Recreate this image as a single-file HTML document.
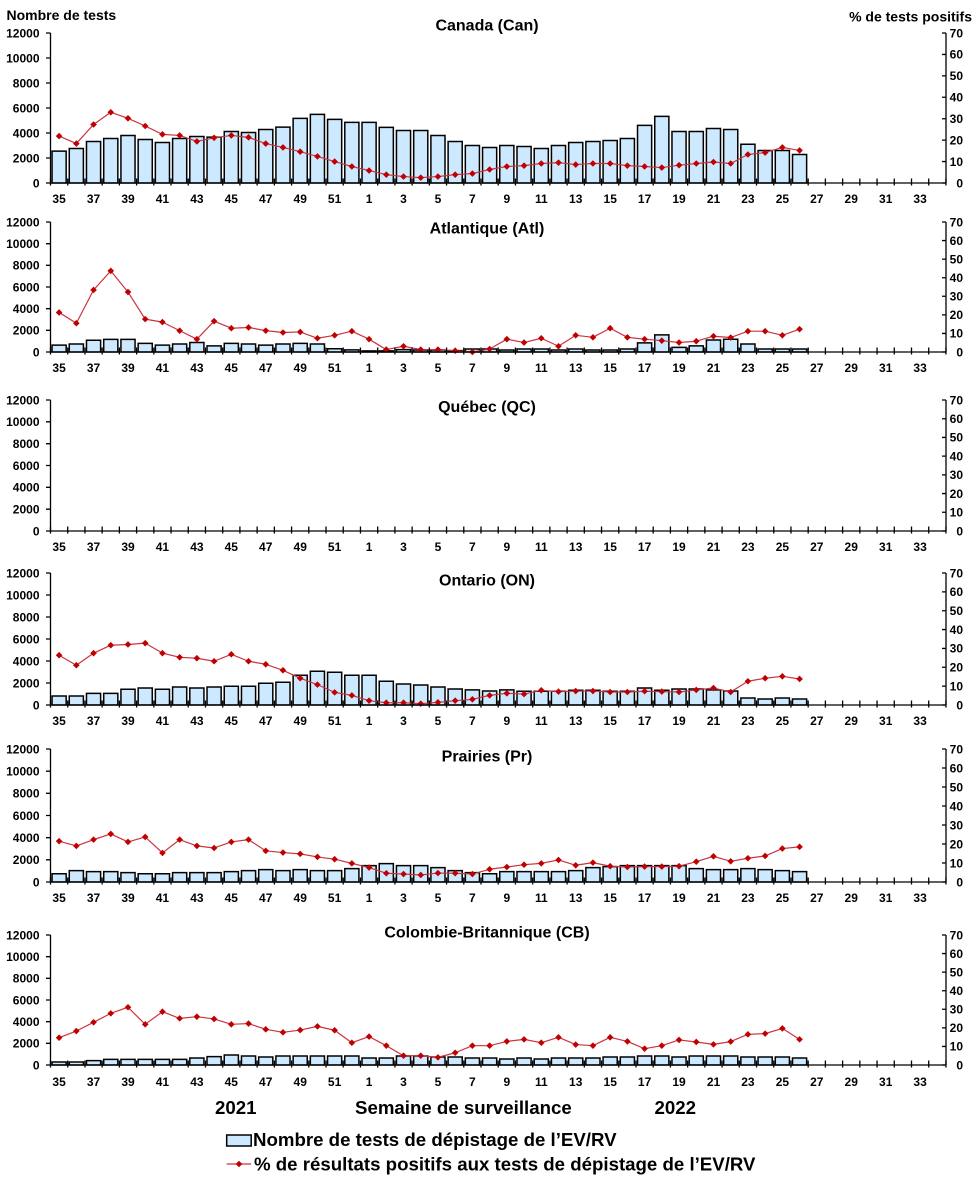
<!DOCTYPE html>
<html><head><meta charset="utf-8"><style>
html,body{margin:0;padding:0;background:#fff}
svg{display:block}
.br rect{fill:#cce9ff;stroke:#000;stroke-width:1.5;vector-effect:non-scaling-stroke}
.ln{fill:none;stroke:#cc3340;stroke-width:1.2;stroke-linejoin:round;vector-effect:non-scaling-stroke}
.ax line{stroke:#000;stroke-width:1.3}
text{font-family:"Liberation Sans",Arial,sans-serif;font-weight:bold;fill:#000}
.t12{font-size:12px}
.lt{text-anchor:end}
.rt{text-anchor:end}
.ttl{font-size:16px;text-anchor:middle}
</style></head><body>
<svg width="976" height="1184" viewBox="0 0 976 1184" xmlns="http://www.w3.org/2000/svg">
<defs>
<g id="wk" class="t12" text-anchor="middle">
<text x="59.1">35</text><text x="93.5">37</text><text x="128">39</text><text x="162.4">41</text><text x="196.9">43</text><text x="231.3">45</text><text x="265.7">47</text><text x="300.2">49</text><text x="334.6">51</text><text x="369.1">1</text><text x="403.5">3</text><text x="438">5</text><text x="472.4">7</text><text x="506.8">9</text><text x="541.3">11</text><text x="575.7">13</text><text x="610.2">15</text><text x="644.6">17</text><text x="679">19</text><text x="713.5">21</text><text x="747.9">23</text><text x="782.4">25</text><text x="816.8">27</text><text x="851.2">29</text><text x="885.7">31</text><text x="920.1">33</text>
</g>
<path id="d1" d="M0,1.54L.192,0L0,-1.54L-.192,0Z" fill="#c00000"/>
<path id="d2" d="M0,1.777L.192,0L0,-1.777L-.192,0Z" fill="#c00000"/>
<path id="d4" d="M0,1.75L.192,0L0,-1.75L-.192,0Z" fill="#c00000"/>
<path id="d5" d="M0,1.737L.192,0L0,-1.737L-.192,0Z" fill="#c00000"/>
</defs>
<rect width="976" height="1184" fill="#fff"/>

<!-- axis titles -->
<text x="6.5" y="20" font-size="14">Nombre de tests</text>
<text x="972" y="21.7" font-size="14" text-anchor="end">% de tests positifs</text>

<!-- ================= PANEL 1 Canada ================= -->
<text class="ttl" x="487" y="30.7">Canada (Can)</text>
<g class="br" transform="translate(50.5,183) scale(17.22,-0.0125)">
<rect x=".09" width=".82" height="2550"/><rect x="1.09" width=".82" height="2760"/><rect x="2.09" width=".82" height="3320"/><rect x="3.09" width=".82" height="3560"/><rect x="4.09" width=".82" height="3800"/><rect x="5.09" width=".82" height="3480"/><rect x="6.09" width=".82" height="3240"/><rect x="7.09" width=".82" height="3560"/><rect x="8.09" width=".82" height="3720"/><rect x="9.09" width=".82" height="3670"/><rect x="10.09" width=".82" height="4120"/><rect x="11.09" width=".82" height="4040"/><rect x="12.09" width=".82" height="4280"/><rect x="13.09" width=".82" height="4470"/><rect x="14.09" width=".82" height="5170"/><rect x="15.09" width=".82" height="5490"/><rect x="16.09" width=".82" height="5090"/><rect x="17.09" width=".82" height="4850"/><rect x="18.09" width=".82" height="4850"/><rect x="19.09" width=".82" height="4450"/><rect x="20.09" width=".82" height="4200"/><rect x="21.09" width=".82" height="4200"/><rect x="22.09" width=".82" height="3800"/><rect x="23.09" width=".82" height="3320"/><rect x="24.09" width=".82" height="3000"/><rect x="25.09" width=".82" height="2840"/><rect x="26.09" width=".82" height="3000"/><rect x="27.09" width=".82" height="2920"/><rect x="28.09" width=".82" height="2760"/><rect x="29.09" width=".82" height="3000"/><rect x="30.09" width=".82" height="3240"/><rect x="31.09" width=".82" height="3320"/><rect x="32.09" width=".82" height="3400"/><rect x="33.09" width=".82" height="3560"/><rect x="34.09" width=".82" height="4610"/><rect x="35.09" width=".82" height="5330"/><rect x="36.09" width=".82" height="4120"/><rect x="37.09" width=".82" height="4120"/><rect x="38.09" width=".82" height="4360"/><rect x="39.09" width=".82" height="4280"/><rect x="40.09" width=".82" height="3100"/><rect x="41.09" width=".82" height="2600"/><rect x="42.09" width=".82" height="2600"/><rect x="43.09" width=".82" height="2280"/>
</g>
<g transform="translate(50.5,183) scale(17.22,-2.142857)">
<polyline class="ln" points="0.5,21.9 1.5,18.4 2.5,27.3 3.5,33 4.5,30.2 5.5,26.6 6.5,22.7 7.5,22.2 8.5,19.4 9.5,21.1 10.5,22.2 11.5,21.3 12.5,18.4 13.5,16.6 14.5,14.6 15.5,12.4 16.5,10 17.5,7.7 18.5,5.8 19.5,3.9 20.5,3 21.5,2.5 22.5,3 23.5,3.9 24.5,4.4 25.5,6.3 26.5,7.7 27.5,8.1 28.5,9.1 29.5,9.5 30.5,8.6 31.5,9.1 32.5,9.1 33.5,8.1 34.5,7.7 35.5,7.2 36.5,8.3 37.5,9.1 38.5,9.8 39.5,9.1 40.5,13.3 41.5,14.2 42.5,16.6 43.5,15.2"/>
<use href="#d1" x="0.5" y="21.9"/><use href="#d1" x="1.5" y="18.4"/><use href="#d1" x="2.5" y="27.3"/><use href="#d1" x="3.5" y="33"/><use href="#d1" x="4.5" y="30.2"/><use href="#d1" x="5.5" y="26.6"/><use href="#d1" x="6.5" y="22.7"/><use href="#d1" x="7.5" y="22.2"/><use href="#d1" x="8.5" y="19.4"/><use href="#d1" x="9.5" y="21.1"/><use href="#d1" x="10.5" y="22.2"/><use href="#d1" x="11.5" y="21.3"/><use href="#d1" x="12.5" y="18.4"/><use href="#d1" x="13.5" y="16.6"/><use href="#d1" x="14.5" y="14.6"/><use href="#d1" x="15.5" y="12.4"/><use href="#d1" x="16.5" y="10"/><use href="#d1" x="17.5" y="7.7"/><use href="#d1" x="18.5" y="5.8"/><use href="#d1" x="19.5" y="3.9"/><use href="#d1" x="20.5" y="3"/><use href="#d1" x="21.5" y="2.5"/><use href="#d1" x="22.5" y="3"/><use href="#d1" x="23.5" y="3.9"/><use href="#d1" x="24.5" y="4.4"/><use href="#d1" x="25.5" y="6.3"/><use href="#d1" x="26.5" y="7.7"/><use href="#d1" x="27.5" y="8.1"/><use href="#d1" x="28.5" y="9.1"/><use href="#d1" x="29.5" y="9.5"/><use href="#d1" x="30.5" y="8.6"/><use href="#d1" x="31.5" y="9.1"/><use href="#d1" x="32.5" y="9.1"/><use href="#d1" x="33.5" y="8.1"/><use href="#d1" x="34.5" y="7.7"/><use href="#d1" x="35.5" y="7.2"/><use href="#d1" x="36.5" y="8.3"/><use href="#d1" x="37.5" y="9.1"/><use href="#d1" x="38.5" y="9.8"/><use href="#d1" x="39.5" y="9.1"/><use href="#d1" x="40.5" y="13.3"/><use href="#d1" x="41.5" y="14.2"/><use href="#d1" x="42.5" y="16.6"/><use href="#d1" x="43.5" y="15.2"/>
</g>
<g class="ax">
<line x1="50.5" y1="33" x2="50.5" y2="183"/><line x1="946" y1="33" x2="946" y2="183"/><line x1="50.5" y1="183" x2="946" y2="183"/>
<line x1="48.25" y1="32.35" x2="48.25" y2="183.65" style="stroke-width:4.5;stroke-dasharray:1.3 23.7"/>
<line x1="944" y1="32.35" x2="944" y2="183.65" style="stroke-width:4;stroke-dasharray:1.3 20.1286"/>
<line x1="49.85" y1="182" x2="946.65" y2="182" style="stroke-width:7;stroke-dasharray:1.3 15.92"/>
</g>
<g class="t12 lt"><text x="39.5" y="187.3">0</text><text x="39.5" y="162.3">2000</text><text x="39.5" y="137.3">4000</text><text x="39.5" y="112.3">6000</text><text x="39.5" y="87.3">8000</text><text x="39.5" y="62.3">10000</text><text x="39.5" y="37.3">12000</text></g>
<g class="t12 rt"><text x="963" y="187.3">0</text><text x="963" y="165.9">10</text><text x="963" y="144.4">20</text><text x="963" y="123">30</text><text x="963" y="101.6">40</text><text x="963" y="80.2">50</text><text x="963" y="58.7">60</text><text x="963" y="37.3">70</text></g>
<use href="#wk" y="203"/>

<!-- ================= PANEL 2 Atlantique ================= -->
<text class="ttl" x="487" y="233.7">Atlantique (Atl)</text>
<g class="br" transform="translate(50.5,352) scale(17.22,-0.0108333)">
<rect x=".09" width=".82" height="640"/><rect x="1.09" width=".82" height="740"/><rect x="2.09" width=".82" height="1080"/><rect x="3.09" width=".82" height="1160"/><rect x="4.09" width=".82" height="1160"/><rect x="5.09" width=".82" height="800"/><rect x="6.09" width=".82" height="640"/><rect x="7.09" width=".82" height="740"/><rect x="8.09" width=".82" height="880"/><rect x="9.09" width=".82" height="560"/><rect x="10.09" width=".82" height="800"/><rect x="11.09" width=".82" height="740"/><rect x="12.09" width=".82" height="640"/><rect x="13.09" width=".82" height="740"/><rect x="14.09" width=".82" height="800"/><rect x="15.09" width=".82" height="740"/><rect x="16.09" width=".82" height="300"/><rect x="17.09" width=".82" height="200"/><rect x="18.09" width=".82" height="100"/><rect x="19.09" width=".82" height="100"/><rect x="20.09" width=".82" height="220"/><rect x="21.09" width=".82" height="190"/><rect x="22.09" width=".82" height="190"/><rect x="23.09" width=".82" height="130"/><rect x="24.09" width=".82" height="280"/><rect x="25.09" width=".82" height="280"/><rect x="26.09" width=".82" height="190"/><rect x="27.09" width=".82" height="280"/><rect x="28.09" width=".82" height="280"/><rect x="29.09" width=".82" height="190"/><rect x="30.09" width=".82" height="280"/><rect x="31.09" width=".82" height="190"/><rect x="32.09" width=".82" height="190"/><rect x="33.09" width=".82" height="280"/><rect x="34.09" width=".82" height="840"/><rect x="35.09" width=".82" height="1580"/><rect x="36.09" width=".82" height="430"/><rect x="37.09" width=".82" height="560"/><rect x="38.09" width=".82" height="1110"/><rect x="39.09" width=".82" height="1180"/><rect x="40.09" width=".82" height="740"/><rect x="41.09" width=".82" height="280"/><rect x="42.09" width=".82" height="280"/><rect x="43.09" width=".82" height="280"/>
</g>
<g transform="translate(50.5,352) scale(17.22,-1.857143)">
<polyline class="ln" points="0.5,21.3 1.5,15.5 2.5,33.4 3.5,43.7 4.5,32.3 5.5,17.7 6.5,16.1 7.5,11.5 8.5,6.9 9.5,16.6 10.5,12.8 11.5,13.2 12.5,11.5 13.5,10.5 14.5,10.8 15.5,7.4 16.5,9 17.5,11.2 18.5,6.9 19.5,1.3 20.5,3.1 21.5,1.3 22.5,1.3 23.5,0.7 24.5,0 25.5,1.6 26.5,6.9 27.5,5.1 28.5,7.4 29.5,3.1 30.5,9 31.5,7.9 32.5,12.8 33.5,7.9 34.5,6.9 35.5,6.1 36.5,5.1 37.5,5.8 38.5,8.5 39.5,7.8 40.5,11.2 41.5,11.2 42.5,9 43.5,12.3"/>
<use href="#d2" x="0.5" y="21.3"/><use href="#d2" x="1.5" y="15.5"/><use href="#d2" x="2.5" y="33.4"/><use href="#d2" x="3.5" y="43.7"/><use href="#d2" x="4.5" y="32.3"/><use href="#d2" x="5.5" y="17.7"/><use href="#d2" x="6.5" y="16.1"/><use href="#d2" x="7.5" y="11.5"/><use href="#d2" x="8.5" y="6.9"/><use href="#d2" x="9.5" y="16.6"/><use href="#d2" x="10.5" y="12.8"/><use href="#d2" x="11.5" y="13.2"/><use href="#d2" x="12.5" y="11.5"/><use href="#d2" x="13.5" y="10.5"/><use href="#d2" x="14.5" y="10.8"/><use href="#d2" x="15.5" y="7.4"/><use href="#d2" x="16.5" y="9"/><use href="#d2" x="17.5" y="11.2"/><use href="#d2" x="18.5" y="6.9"/><use href="#d2" x="19.5" y="1.3"/><use href="#d2" x="20.5" y="3.1"/><use href="#d2" x="21.5" y="1.3"/><use href="#d2" x="22.5" y="1.3"/><use href="#d2" x="23.5" y="0.7"/><use href="#d2" x="24.5" y="0"/><use href="#d2" x="25.5" y="1.6"/><use href="#d2" x="26.5" y="6.9"/><use href="#d2" x="27.5" y="5.1"/><use href="#d2" x="28.5" y="7.4"/><use href="#d2" x="29.5" y="3.1"/><use href="#d2" x="30.5" y="9"/><use href="#d2" x="31.5" y="7.9"/><use href="#d2" x="32.5" y="12.8"/><use href="#d2" x="33.5" y="7.9"/><use href="#d2" x="34.5" y="6.9"/><use href="#d2" x="35.5" y="6.1"/><use href="#d2" x="36.5" y="5.1"/><use href="#d2" x="37.5" y="5.8"/><use href="#d2" x="38.5" y="8.5"/><use href="#d2" x="39.5" y="7.8"/><use href="#d2" x="40.5" y="11.2"/><use href="#d2" x="41.5" y="11.2"/><use href="#d2" x="42.5" y="9"/><use href="#d2" x="43.5" y="12.3"/>
</g>
<g class="ax">
<line x1="50.5" y1="222" x2="50.5" y2="352"/><line x1="946" y1="222" x2="946" y2="352"/><line x1="50.5" y1="352" x2="946" y2="352"/>
<line x1="48.25" y1="221.35" x2="48.25" y2="352.65" style="stroke-width:4.5;stroke-dasharray:1.3 20.3667"/>
<line x1="944" y1="221.35" x2="944" y2="352.65" style="stroke-width:4;stroke-dasharray:1.3 17.2714"/>
<line x1="49.85" y1="351" x2="946.65" y2="351" style="stroke-width:7;stroke-dasharray:1.3 15.92"/>
</g>
<g class="t12 lt"><text x="39.5" y="356.3">0</text><text x="39.5" y="334.6">2000</text><text x="39.5" y="313">4000</text><text x="39.5" y="291.3">6000</text><text x="39.5" y="269.6">8000</text><text x="39.5" y="248">10000</text><text x="39.5" y="226.3">12000</text></g>
<g class="t12 rt"><text x="963" y="356.3">0</text><text x="963" y="337.7">10</text><text x="963" y="319.2">20</text><text x="963" y="300.6">30</text><text x="963" y="282">40</text><text x="963" y="263.4">50</text><text x="963" y="244.9">60</text><text x="963" y="226.3">70</text></g>
<use href="#wk" y="372"/>

<!-- ================= PANEL 3 Québec ================= -->
<text class="ttl" x="487" y="412">Québec (QC)</text>
<g class="ax">
<line x1="50.5" y1="400" x2="50.5" y2="531"/><line x1="946" y1="400" x2="946" y2="531"/><line x1="50.5" y1="531" x2="946" y2="531"/>
<line x1="48.25" y1="399.35" x2="48.25" y2="531.65" style="stroke-width:4.5;stroke-dasharray:1.3 20.5333"/>
<line x1="944" y1="399.35" x2="944" y2="531.65" style="stroke-width:4;stroke-dasharray:1.3 17.4143"/>
<line x1="49.85" y1="530" x2="946.65" y2="530" style="stroke-width:7;stroke-dasharray:1.3 15.92"/>
</g>
<g class="t12 lt"><text x="39.5" y="535.3">0</text><text x="39.5" y="513.5">2000</text><text x="39.5" y="491.6">4000</text><text x="39.5" y="469.8">6000</text><text x="39.5" y="448">8000</text><text x="39.5" y="426.1">10000</text><text x="39.5" y="404.3">12000</text></g>
<g class="t12 rt"><text x="963" y="535.3">0</text><text x="963" y="516.6">10</text><text x="963" y="497.9">20</text><text x="963" y="479.2">30</text><text x="963" y="460.4">40</text><text x="963" y="441.7">50</text><text x="963" y="423">60</text><text x="963" y="404.3">70</text></g>
<use href="#wk" y="551"/>

<!-- ================= PANEL 4 Ontario ================= -->
<text class="ttl" x="487" y="585.7">Ontario (ON)</text>
<g class="br" transform="translate(50.5,705) scale(17.22,-0.011)">
<rect x=".09" width=".82" height="820"/><rect x="1.09" width=".82" height="820"/><rect x="2.09" width=".82" height="1060"/><rect x="3.09" width=".82" height="1060"/><rect x="4.09" width=".82" height="1430"/><rect x="5.09" width=".82" height="1550"/><rect x="6.09" width=".82" height="1430"/><rect x="7.09" width=".82" height="1640"/><rect x="8.09" width=".82" height="1550"/><rect x="9.09" width=".82" height="1640"/><rect x="10.09" width=".82" height="1700"/><rect x="11.09" width=".82" height="1700"/><rect x="12.09" width=".82" height="1975"/><rect x="13.09" width=".82" height="2070"/><rect x="14.09" width=".82" height="2700"/><rect x="15.09" width=".82" height="3070"/><rect x="16.09" width=".82" height="2980"/><rect x="17.09" width=".82" height="2700"/><rect x="18.09" width=".82" height="2700"/><rect x="19.09" width=".82" height="2160"/><rect x="20.09" width=".82" height="1910"/><rect x="21.09" width=".82" height="1820"/><rect x="22.09" width=".82" height="1640"/><rect x="23.09" width=".82" height="1460"/><rect x="24.09" width=".82" height="1370"/><rect x="25.09" width=".82" height="1275"/><rect x="26.09" width=".82" height="1370"/><rect x="27.09" width=".82" height="1245"/><rect x="28.09" width=".82" height="1245"/><rect x="29.09" width=".82" height="1245"/><rect x="30.09" width=".82" height="1340"/><rect x="31.09" width=".82" height="1340"/><rect x="32.09" width=".82" height="1245"/><rect x="33.09" width=".82" height="1245"/><rect x="34.09" width=".82" height="1550"/><rect x="35.09" width=".82" height="1340"/><rect x="36.09" width=".82" height="1460"/><rect x="37.09" width=".82" height="1460"/><rect x="38.09" width=".82" height="1370"/><rect x="39.09" width=".82" height="1275"/><rect x="40.09" width=".82" height="640"/><rect x="41.09" width=".82" height="550"/><rect x="42.09" width=".82" height="640"/><rect x="43.09" width=".82" height="550"/>
</g>
<g transform="translate(50.5,705) scale(17.22,-1.885714)">
<polyline class="ln" points="0.5,26.4 1.5,21.1 2.5,27.5 3.5,31.7 4.5,32.1 5.5,32.8 6.5,27.5 7.5,25.3 8.5,24.8 9.5,23.2 10.5,26.9 11.5,23.2 12.5,21.6 13.5,18.4 14.5,14.2 15.5,10.8 16.5,6.7 17.5,5.1 18.5,2.3 19.5,1.2 20.5,1.2 21.5,0.7 22.5,1.4 23.5,2.3 24.5,3 25.5,5.1 26.5,6.2 27.5,5.8 28.5,7.8 29.5,7.1 30.5,7.4 31.5,7.4 32.5,6.9 33.5,6.9 34.5,7.3 35.5,7.1 36.5,6.9 37.5,8 38.5,9 39.5,6.9 40.5,12.6 41.5,14.2 42.5,15.2 43.5,13.8"/>
<use href="#d4" x="0.5" y="26.4"/><use href="#d4" x="1.5" y="21.1"/><use href="#d4" x="2.5" y="27.5"/><use href="#d4" x="3.5" y="31.7"/><use href="#d4" x="4.5" y="32.1"/><use href="#d4" x="5.5" y="32.8"/><use href="#d4" x="6.5" y="27.5"/><use href="#d4" x="7.5" y="25.3"/><use href="#d4" x="8.5" y="24.8"/><use href="#d4" x="9.5" y="23.2"/><use href="#d4" x="10.5" y="26.9"/><use href="#d4" x="11.5" y="23.2"/><use href="#d4" x="12.5" y="21.6"/><use href="#d4" x="13.5" y="18.4"/><use href="#d4" x="14.5" y="14.2"/><use href="#d4" x="15.5" y="10.8"/><use href="#d4" x="16.5" y="6.7"/><use href="#d4" x="17.5" y="5.1"/><use href="#d4" x="18.5" y="2.3"/><use href="#d4" x="19.5" y="1.2"/><use href="#d4" x="20.5" y="1.2"/><use href="#d4" x="21.5" y="0.7"/><use href="#d4" x="22.5" y="1.4"/><use href="#d4" x="23.5" y="2.3"/><use href="#d4" x="24.5" y="3"/><use href="#d4" x="25.5" y="5.1"/><use href="#d4" x="26.5" y="6.2"/><use href="#d4" x="27.5" y="5.8"/><use href="#d4" x="28.5" y="7.8"/><use href="#d4" x="29.5" y="7.1"/><use href="#d4" x="30.5" y="7.4"/><use href="#d4" x="31.5" y="7.4"/><use href="#d4" x="32.5" y="6.9"/><use href="#d4" x="33.5" y="6.9"/><use href="#d4" x="34.5" y="7.3"/><use href="#d4" x="35.5" y="7.1"/><use href="#d4" x="36.5" y="6.9"/><use href="#d4" x="37.5" y="8"/><use href="#d4" x="38.5" y="9"/><use href="#d4" x="39.5" y="6.9"/><use href="#d4" x="40.5" y="12.6"/><use href="#d4" x="41.5" y="14.2"/><use href="#d4" x="42.5" y="15.2"/><use href="#d4" x="43.5" y="13.8"/>
</g>
<g class="ax">
<line x1="50.5" y1="573" x2="50.5" y2="705"/><line x1="946" y1="573" x2="946" y2="705"/><line x1="50.5" y1="705" x2="946" y2="705"/>
<line x1="48.25" y1="572.35" x2="48.25" y2="705.65" style="stroke-width:4.5;stroke-dasharray:1.3 20.7"/>
<line x1="944" y1="572.35" x2="944" y2="705.65" style="stroke-width:4;stroke-dasharray:1.3 17.5571"/>
<line x1="49.85" y1="704" x2="946.65" y2="704" style="stroke-width:7;stroke-dasharray:1.3 15.92"/>
</g>
<g class="t12 lt"><text x="39.5" y="709.3">0</text><text x="39.5" y="687.3">2000</text><text x="39.5" y="665.3">4000</text><text x="39.5" y="643.3">6000</text><text x="39.5" y="621.3">8000</text><text x="39.5" y="599.3">10000</text><text x="39.5" y="577.3">12000</text></g>
<g class="t12 rt"><text x="963" y="709.3">0</text><text x="963" y="690.4">10</text><text x="963" y="671.6">20</text><text x="963" y="652.7">30</text><text x="963" y="633.9">40</text><text x="963" y="615">50</text><text x="963" y="596.2">60</text><text x="963" y="577.3">70</text></g>
<use href="#wk" y="725"/>

<!-- ================= PANEL 5 Prairies ================= -->
<text class="ttl" x="487" y="761.7">Prairies (Pr)</text>
<g class="br" transform="translate(50.5,882) scale(17.22,-0.0110833)">
<rect x=".09" width=".82" height="750"/><rect x="1.09" width=".82" height="1025"/><rect x="2.09" width=".82" height="935"/><rect x="3.09" width=".82" height="935"/><rect x="4.09" width=".82" height="845"/><rect x="5.09" width=".82" height="750"/><rect x="6.09" width=".82" height="750"/><rect x="7.09" width=".82" height="845"/><rect x="8.09" width=".82" height="845"/><rect x="9.09" width=".82" height="845"/><rect x="10.09" width=".82" height="935"/><rect x="11.09" width=".82" height="1025"/><rect x="12.09" width=".82" height="1115"/><rect x="13.09" width=".82" height="1025"/><rect x="14.09" width=".82" height="1115"/><rect x="15.09" width=".82" height="1025"/><rect x="16.09" width=".82" height="1025"/><rect x="17.09" width=".82" height="1205"/><rect x="18.09" width=".82" height="1475"/><rect x="19.09" width=".82" height="1660"/><rect x="20.09" width=".82" height="1475"/><rect x="21.09" width=".82" height="1475"/><rect x="22.09" width=".82" height="1295"/><rect x="23.09" width=".82" height="1025"/><rect x="24.09" width=".82" height="845"/><rect x="25.09" width=".82" height="750"/><rect x="26.09" width=".82" height="935"/><rect x="27.09" width=".82" height="935"/><rect x="28.09" width=".82" height="935"/><rect x="29.09" width=".82" height="935"/><rect x="30.09" width=".82" height="1025"/><rect x="31.09" width=".82" height="1295"/><rect x="32.09" width=".82" height="1390"/><rect x="33.09" width=".82" height="1475"/><rect x="34.09" width=".82" height="1475"/><rect x="35.09" width=".82" height="1475"/><rect x="36.09" width=".82" height="1475"/><rect x="37.09" width=".82" height="1205"/><rect x="38.09" width=".82" height="1115"/><rect x="39.09" width=".82" height="1115"/><rect x="40.09" width=".82" height="1205"/><rect x="41.09" width=".82" height="1115"/><rect x="42.09" width=".82" height="1025"/><rect x="43.09" width=".82" height="935"/>
</g>
<g transform="translate(50.5,882) scale(17.22,-1.9)">
<polyline class="ln" points="0.5,21.5 1.5,19 2.5,22.3 3.5,25.3 4.5,21.1 5.5,23.7 6.5,15.3 7.5,22.3 8.5,19 9.5,17.9 10.5,21.1 11.5,22.3 12.5,16.4 13.5,15.5 14.5,14.8 15.5,13.2 16.5,12 17.5,9.8 18.5,7.6 19.5,4.6 20.5,4.2 21.5,3.7 22.5,4.7 23.5,4.6 24.5,4.2 25.5,6.7 26.5,7.9 27.5,9.1 28.5,9.8 29.5,11.6 30.5,8.8 31.5,10.2 32.5,8.3 33.5,7.9 34.5,8.1 35.5,8.1 36.5,8.3 37.5,10.7 38.5,13.5 39.5,10.9 40.5,12.5 41.5,13.7 42.5,17.6 43.5,18.5"/>
<use href="#d5" x="0.5" y="21.5"/><use href="#d5" x="1.5" y="19"/><use href="#d5" x="2.5" y="22.3"/><use href="#d5" x="3.5" y="25.3"/><use href="#d5" x="4.5" y="21.1"/><use href="#d5" x="5.5" y="23.7"/><use href="#d5" x="6.5" y="15.3"/><use href="#d5" x="7.5" y="22.3"/><use href="#d5" x="8.5" y="19"/><use href="#d5" x="9.5" y="17.9"/><use href="#d5" x="10.5" y="21.1"/><use href="#d5" x="11.5" y="22.3"/><use href="#d5" x="12.5" y="16.4"/><use href="#d5" x="13.5" y="15.5"/><use href="#d5" x="14.5" y="14.8"/><use href="#d5" x="15.5" y="13.2"/><use href="#d5" x="16.5" y="12"/><use href="#d5" x="17.5" y="9.8"/><use href="#d5" x="18.5" y="7.6"/><use href="#d5" x="19.5" y="4.6"/><use href="#d5" x="20.5" y="4.2"/><use href="#d5" x="21.5" y="3.7"/><use href="#d5" x="22.5" y="4.7"/><use href="#d5" x="23.5" y="4.6"/><use href="#d5" x="24.5" y="4.2"/><use href="#d5" x="25.5" y="6.7"/><use href="#d5" x="26.5" y="7.9"/><use href="#d5" x="27.5" y="9.1"/><use href="#d5" x="28.5" y="9.8"/><use href="#d5" x="29.5" y="11.6"/><use href="#d5" x="30.5" y="8.8"/><use href="#d5" x="31.5" y="10.2"/><use href="#d5" x="32.5" y="8.3"/><use href="#d5" x="33.5" y="7.9"/><use href="#d5" x="34.5" y="8.1"/><use href="#d5" x="35.5" y="8.1"/><use href="#d5" x="36.5" y="8.3"/><use href="#d5" x="37.5" y="10.7"/><use href="#d5" x="38.5" y="13.5"/><use href="#d5" x="39.5" y="10.9"/><use href="#d5" x="40.5" y="12.5"/><use href="#d5" x="41.5" y="13.7"/><use href="#d5" x="42.5" y="17.6"/><use href="#d5" x="43.5" y="18.5"/>
</g>
<g class="ax">
<line x1="50.5" y1="749" x2="50.5" y2="882"/><line x1="946" y1="749" x2="946" y2="882"/><line x1="50.5" y1="882" x2="946" y2="882"/>
<line x1="48.25" y1="748.35" x2="48.25" y2="882.65" style="stroke-width:4.5;stroke-dasharray:1.3 20.8667"/>
<line x1="944" y1="748.35" x2="944" y2="882.65" style="stroke-width:4;stroke-dasharray:1.3 17.7"/>
<line x1="49.85" y1="881" x2="946.65" y2="881" style="stroke-width:7;stroke-dasharray:1.3 15.92"/>
</g>
<g class="t12 lt"><text x="39.5" y="886.3">0</text><text x="39.5" y="864.1">2000</text><text x="39.5" y="842">4000</text><text x="39.5" y="819.8">6000</text><text x="39.5" y="797.6">8000</text><text x="39.5" y="775.5">10000</text><text x="39.5" y="753.3">12000</text></g>
<g class="t12 rt"><text x="963" y="886.3">0</text><text x="963" y="867.3">10</text><text x="963" y="848.3">20</text><text x="963" y="829.3">30</text><text x="963" y="810.3">40</text><text x="963" y="791.3">50</text><text x="963" y="772.3">60</text><text x="963" y="753.3">70</text></g>
<use href="#wk" y="902"/>

<!-- ================= PANEL 6 Colombie-Britannique ================= -->
<text class="ttl" x="487" y="937.4">Colombie-Britannique (CB)</text>
<g class="br" transform="translate(50.5,1065) scale(17.22,-0.0108333)">
<rect x=".09" width=".82" height="280"/><rect x="1.09" width=".82" height="280"/><rect x="2.09" width=".82" height="400"/><rect x="3.09" width=".82" height="520"/><rect x="4.09" width=".82" height="520"/><rect x="5.09" width=".82" height="520"/><rect x="6.09" width=".82" height="520"/><rect x="7.09" width=".82" height="520"/><rect x="8.09" width=".82" height="650"/><rect x="9.09" width=".82" height="770"/><rect x="10.09" width=".82" height="920"/><rect x="11.09" width=".82" height="830"/><rect x="12.09" width=".82" height="740"/><rect x="13.09" width=".82" height="830"/><rect x="14.09" width=".82" height="830"/><rect x="15.09" width=".82" height="830"/><rect x="16.09" width=".82" height="830"/><rect x="17.09" width=".82" height="830"/><rect x="18.09" width=".82" height="650"/><rect x="19.09" width=".82" height="650"/><rect x="20.09" width=".82" height="830"/><rect x="21.09" width=".82" height="830"/><rect x="22.09" width=".82" height="740"/><rect x="23.09" width=".82" height="740"/><rect x="24.09" width=".82" height="650"/><rect x="25.09" width=".82" height="650"/><rect x="26.09" width=".82" height="550"/><rect x="27.09" width=".82" height="650"/><rect x="28.09" width=".82" height="550"/><rect x="29.09" width=".82" height="650"/><rect x="30.09" width=".82" height="650"/><rect x="31.09" width=".82" height="650"/><rect x="32.09" width=".82" height="740"/><rect x="33.09" width=".82" height="740"/><rect x="34.09" width=".82" height="830"/><rect x="35.09" width=".82" height="830"/><rect x="36.09" width=".82" height="740"/><rect x="37.09" width=".82" height="830"/><rect x="38.09" width=".82" height="830"/><rect x="39.09" width=".82" height="830"/><rect x="40.09" width=".82" height="740"/><rect x="41.09" width=".82" height="740"/><rect x="42.09" width=".82" height="740"/><rect x="43.09" width=".82" height="650"/>
</g>
<g transform="translate(50.5,1065) scale(17.22,-1.857143)">
<polyline class="ln" points="0.5,14.7 1.5,18.3 2.5,23 3.5,27.8 4.5,31.1 5.5,21.9 6.5,28.7 7.5,25.1 8.5,26 9.5,24.8 10.5,21.9 11.5,22.3 12.5,19.2 13.5,17.6 14.5,18.8 15.5,20.8 16.5,18.7 17.5,12 18.5,15.3 19.5,10.4 20.5,5 21.5,5 22.5,4.1 23.5,6.6 24.5,10.4 25.5,10.4 26.5,12.7 27.5,13.8 28.5,12 29.5,14.9 30.5,11 31.5,10.4 32.5,14.9 33.5,12.7 34.5,8.8 35.5,10.4 36.5,13.5 37.5,12.4 38.5,11.1 39.5,12.6 40.5,16.5 41.5,16.9 42.5,19.7 43.5,13.8"/>
<use href="#d2" x="0.5" y="14.7"/><use href="#d2" x="1.5" y="18.3"/><use href="#d2" x="2.5" y="23"/><use href="#d2" x="3.5" y="27.8"/><use href="#d2" x="4.5" y="31.1"/><use href="#d2" x="5.5" y="21.9"/><use href="#d2" x="6.5" y="28.7"/><use href="#d2" x="7.5" y="25.1"/><use href="#d2" x="8.5" y="26"/><use href="#d2" x="9.5" y="24.8"/><use href="#d2" x="10.5" y="21.9"/><use href="#d2" x="11.5" y="22.3"/><use href="#d2" x="12.5" y="19.2"/><use href="#d2" x="13.5" y="17.6"/><use href="#d2" x="14.5" y="18.8"/><use href="#d2" x="15.5" y="20.8"/><use href="#d2" x="16.5" y="18.7"/><use href="#d2" x="17.5" y="12"/><use href="#d2" x="18.5" y="15.3"/><use href="#d2" x="19.5" y="10.4"/><use href="#d2" x="20.5" y="5"/><use href="#d2" x="21.5" y="5"/><use href="#d2" x="22.5" y="4.1"/><use href="#d2" x="23.5" y="6.6"/><use href="#d2" x="24.5" y="10.4"/><use href="#d2" x="25.5" y="10.4"/><use href="#d2" x="26.5" y="12.7"/><use href="#d2" x="27.5" y="13.8"/><use href="#d2" x="28.5" y="12"/><use href="#d2" x="29.5" y="14.9"/><use href="#d2" x="30.5" y="11"/><use href="#d2" x="31.5" y="10.4"/><use href="#d2" x="32.5" y="14.9"/><use href="#d2" x="33.5" y="12.7"/><use href="#d2" x="34.5" y="8.8"/><use href="#d2" x="35.5" y="10.4"/><use href="#d2" x="36.5" y="13.5"/><use href="#d2" x="37.5" y="12.4"/><use href="#d2" x="38.5" y="11.1"/><use href="#d2" x="39.5" y="12.6"/><use href="#d2" x="40.5" y="16.5"/><use href="#d2" x="41.5" y="16.9"/><use href="#d2" x="42.5" y="19.7"/><use href="#d2" x="43.5" y="13.8"/>
</g>
<g class="ax">
<line x1="50.5" y1="935" x2="50.5" y2="1065"/><line x1="946" y1="935" x2="946" y2="1065"/><line x1="50.5" y1="1065" x2="946" y2="1065"/>
<line x1="48.25" y1="934.35" x2="48.25" y2="1065.65" style="stroke-width:4.5;stroke-dasharray:1.3 20.3667"/>
<line x1="944" y1="934.35" x2="944" y2="1065.65" style="stroke-width:4;stroke-dasharray:1.3 17.2714"/>
<line x1="49.85" y1="1064" x2="946.65" y2="1064" style="stroke-width:7;stroke-dasharray:1.3 15.92"/>
</g>
<g class="t12 lt"><text x="39.5" y="1069.3">0</text><text x="39.5" y="1047.6">2000</text><text x="39.5" y="1026">4000</text><text x="39.5" y="1004.3">6000</text><text x="39.5" y="982.6">8000</text><text x="39.5" y="961">10000</text><text x="39.5" y="939.3">12000</text></g>
<g class="t12 rt"><text x="963" y="1069.3">0</text><text x="963" y="1050.7">10</text><text x="963" y="1032.2">20</text><text x="963" y="1013.6">30</text><text x="963" y="995">40</text><text x="963" y="976.4">50</text><text x="963" y="957.9">60</text><text x="963" y="939.3">70</text></g>
<use href="#wk" y="1086"/>

<!-- ================= bottom labels & legend ================= -->
<g font-size="18.67">
<text x="215" y="1114">2021</text>
<text x="355" y="1114">Semaine de surveillance</text>
<text x="654.5" y="1114">2022</text>
<rect x="226.7" y="1135" width="24.5" height="11" fill="#cce9ff" stroke="#000" stroke-width="1.5"/>
<text x="253" y="1146.2">Nombre de tests de dépistage de l’EV/RV</text>
<line x1="226.7" y1="1164" x2="251.2" y2="1164" stroke="#cc3340" stroke-width="1.2"/>
<path d="M239,1160.7L242.3,1164L239,1167.3L235.7,1164Z" fill="#c00000"/>
<text x="254" y="1170.5">% de résultats positifs aux tests de dépistage de l’EV/RV</text>
</g>
</svg>
</body></html>
